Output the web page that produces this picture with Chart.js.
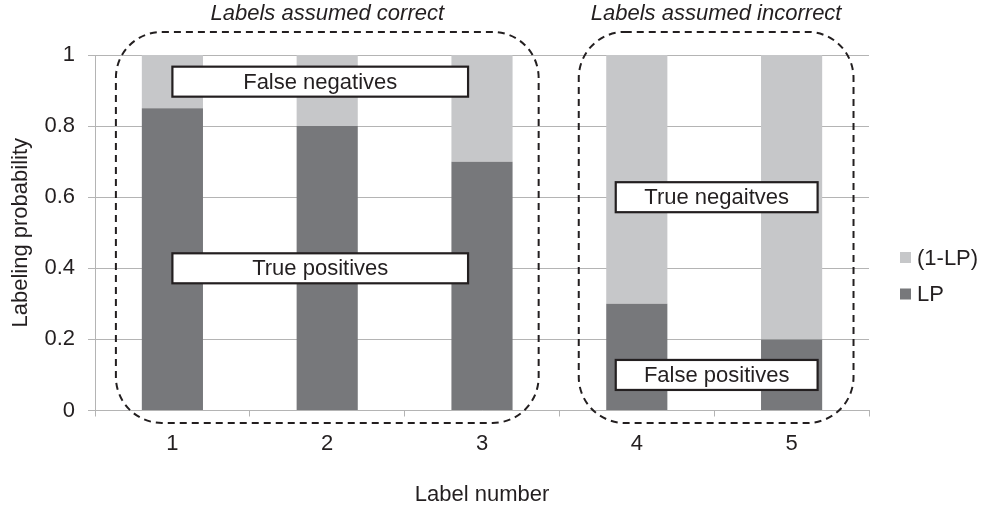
<!DOCTYPE html>
<html>
<head>
<meta charset="utf-8">
<script src="https://cdn.jsdelivr.net/npm/chart.js@4/dist/chart.umd.min.js"></script>
<style>
  html, body { margin: 0; padding: 0; background: #ffffff; }
  #wrap { width: 982px; height: 514px; position: relative; }
</style>
</head>
<body>
<div id="wrap"><canvas id="c"></canvas></div>
<script>
// ---- data ----
const categories = ['1', '2', '3', '4', '5'];
const lpValues = [0.85, 0.8, 0.7, 0.3, 0.2];
const complementValues = [0.15, 0.2, 0.3, 0.7, 0.8];
const yTicks = [0, 0.2, 0.4, 0.6, 0.8, 1];
const seriesNames = ['LP', '(1-LP)'];
const groupTitles = ['Labels assumed correct', 'Labels assumed incorrect'];
const regionLabels = ['False negatives', 'True positives', 'True negaitves', 'False positives'];

// ---- annotation placement (category index / value units) ----
const groupFrames = [
  { title: groupTitles[0], x0: -0.365, x1: 2.366, y0: -0.035, y1: 1.065 },
  { title: groupTitles[1], x0: 2.625, x1: 4.40, y0: -0.035, y1: 1.065 }
];
const regionBoxes = [
  { text: regionLabels[0], x0: 0.0, x1: 1.91, y: 0.925 },
  { text: regionLabels[1], x0: 0.0, x1: 1.91, y: 0.40 },
  { text: regionLabels[2], x0: 2.864, x1: 4.168, y: 0.60 },
  { text: regionLabels[3], x0: 2.864, x1: 4.168, y: 0.10 }
];

const FONT = "'Liberation Sans', Arial, sans-serif";
const TEXT = '#231f20';
const GRID = '#b4b4b4';
const DARK = '#77787b';
const LIGHT = '#c6c7c9';

function roundRectPath(ctx, x, y, w, h, r) {
  ctx.beginPath();
  ctx.moveTo(x + r, y);
  ctx.lineTo(x + w - r, y);
  ctx.arcTo(x + w, y, x + w, y + r, r);
  ctx.lineTo(x + w, y + h - r);
  ctx.arcTo(x + w, y + h, x + w - r, y + h, r);
  ctx.lineTo(x + r, y + h);
  ctx.arcTo(x, y + h, x, y + h - r, r);
  ctx.lineTo(x, y + r);
  ctx.arcTo(x, y, x + r, y, r);
  ctx.closePath();
}

// Dashed group frames, their italic titles, labelled boxes and the side legend
const overlayPlugin = {
  id: 'overlay',
  afterDatasetsDraw(chart) {
    const { ctx, scales: { x, y } } = chart;
    ctx.save();
    // dashed rounded frames
    ctx.setLineDash([7, 5]);
    ctx.lineWidth = 2;
    ctx.strokeStyle = TEXT;
    groupFrames.forEach(f => {
      const left = x.getPixelForValue(f.x0);
      const right = x.getPixelForValue(f.x1);
      const top = y.getPixelForValue(f.y1);
      const bottom = y.getPixelForValue(f.y0);
      roundRectPath(ctx, left, top, right - left, bottom - top, 46);
      ctx.stroke();
    });
    ctx.setLineDash([]);
    // titles above frames
    ctx.fillStyle = TEXT;
    ctx.font = 'italic 22px ' + FONT;
    ctx.textAlign = 'center';
    ctx.textBaseline = 'middle';
    groupFrames.forEach(f => {
      const cx = (x.getPixelForValue(f.x0) + x.getPixelForValue(f.x1)) / 2;
      ctx.fillText(f.title, cx, 14);
    });
    // labelled boxes
    ctx.font = '22px ' + FONT;
    regionBoxes.forEach(b => {
      const left = x.getPixelForValue(b.x0);
      const right = x.getPixelForValue(b.x1);
      const cy = y.getPixelForValue(b.y);
      const h = 30;
      ctx.fillStyle = '#ffffff';
      ctx.fillRect(left, cy - h / 2, right - left, h);
      ctx.lineWidth = 2.2;
      ctx.strokeStyle = TEXT;
      ctx.strokeRect(left, cy - h / 2, right - left, h);
      ctx.fillStyle = TEXT;
      ctx.fillText(b.text, (left + right) / 2, cy + 1);
    });
    // legend (top item is the upper stack segment)
    const items = chart.data.datasets.slice().reverse();
    const lx = chart.chartArea.right + 31;
    const ly = 257.5;
    ctx.textAlign = 'left';
    items.forEach((ds, i) => {
      const cy = ly + i * 36.5;
      ctx.fillStyle = ds.backgroundColor;
      ctx.fillRect(lx, cy - 5.5, 11, 11);
      ctx.fillStyle = TEXT;
      ctx.fillText(ds.label, lx + 17, cy + 1);
    });
    ctx.restore();
  }
};

new Chart(document.getElementById('c'), {
  type: 'bar',
  data: {
    labels: categories,
    datasets: [
      { label: seriesNames[0], data: lpValues, backgroundColor: DARK },
      { label: seriesNames[1], data: complementValues, backgroundColor: LIGHT }
    ]
  },
  options: {
    responsive: true,
    maintainAspectRatio: false,
    animation: false,
    layout: { padding: { top: 55, right: 113, bottom: 0, left: 0 } },
    datasets: { bar: { categoryPercentage: 1, barPercentage: 0.395 } },
    plugins: {
      legend: { display: false },
      tooltip: { enabled: false }
    },
    scales: {
      x: {
        stacked: true,
        afterFit(scale) { scale.height = 103.5; },
        grid: { drawOnChartArea: false, drawTicks: true, tickLength: 6, color: GRID, offset: true },
        border: { display: true, color: GRID, width: 1 },
        ticks: { color: TEXT, font: { family: FONT, size: 22 }, padding: 14 },
        title: { display: true, text: 'Label number', color: TEXT, font: { family: FONT, size: 22 }, padding: { top: 0, bottom: 6 } }
      },
      y: {
        stacked: true,
        min: 0,
        max: 1,
        afterFit(scale) { scale.width = 95; },
        afterBuildTicks(scale) { scale.ticks = yTicks.map(v => ({ value: v })); },
        grid: { color: GRID, tickLength: 7, lineWidth: 1 },
        border: { display: true, color: GRID, width: 1 },
        ticks: {
          color: TEXT,
          font: { family: FONT, size: 22 },
          padding: 13,
          callback: v => String(v)
        },
        title: { display: true, text: 'Labeling probability', color: TEXT, font: { family: FONT, size: 22 }, padding: { top: 8, bottom: 0 } }
      }
    }
  },
  plugins: [overlayPlugin]
});
</script>
</body>
</html>
